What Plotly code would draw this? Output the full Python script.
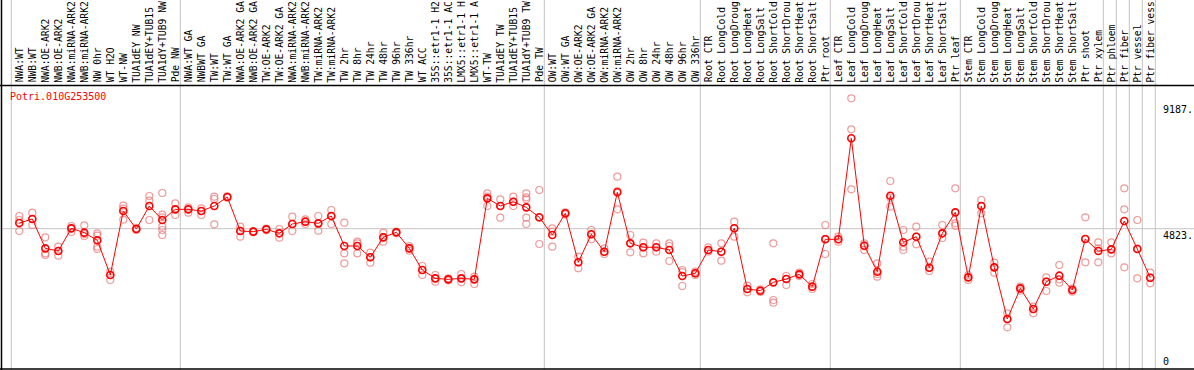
import plotly.graph_objects as go

title = "Potri.010G253500"

labels = [
    "NWA:WT", "NWB:WT", "NWA:OE-ARK2", "NWB:OE-ARK2", "NWA:miRNA-ARK2", "NWB:miRNA-ARK2",
    "NW 0hr", "WT H2O", "WT-NW", "TUA1dEY NW", "TUA1dEY+TUB15", "TUA1dY+TUB9 NW", "Pde NW",
    "NWA:WT GA", "NWBWT GA", "TW:WT", "TW:WT GA", "NWA:OE-ARK2 GA", "NWB:OE-ARK2 GA",
    "TW:OE-ARK2", "TW:OE-ARK2 GA", "NWA:miRNA-ARK2", "NWB:miRNA-ARK2", "TW:miRNA-ARK2",
    "TW:miRNA-ARK2", "TW 2hr", "TW 8hr", "TW 24hr", "TW 48hr", "TW 96hr", "TW 336hr",
    "WT ACC", "35S::etr1-1 H2", "35S::etr1-1 AC", "LMX5::etr1-1 H", "LMX5::etr1-1 A",
    "WT-TW", "TUA1dEY TW", "TUA1dEY+TUB15", "TUA1dY+TUB9 TW", "Pde TW",
    "OW:WT", "OW:WT GA", "OW:OE-ARK2", "OW:OE-ARK2 GA", "OW:miRNA-ARK2", "OW:miRNA-ARK2",
    "OW 2hr", "OW 8hr", "OW 24hr", "OW 48hr", "OW 96hr", "OW 336hr",
    "Root CTR", "Root LongCold", "Root LongDroug", "Root LongHeat", "Root LongSalt",
    "Root ShortCold", "Root ShortDrou", "Root ShortHeat", "Root ShortSalt", "Ptr root",
    "Leaf CTR", "Leaf LongCold", "Leaf LongDroug", "Leaf LongHeat", "Leaf LongSalt",
    "Leaf ShortCold", "Leaf ShortDrou", "Leaf ShortHeat", "Leaf ShortSalt", "Ptr leaf",
    "Stem CTR", "Stem LongCold", "Stem LongDroug", "Stem LongHeat", "Stem LongSalt",
    "Stem ShortCold", "Stem ShortDrou", "Stem ShortHeat", "Stem ShortSalt", "Ptr shoot",
    "Ptr xylem", "Ptr phloem", "Ptr fiber", "Ptr vessel", "Ptr fiber vess",
]

means = [
    5020, 5159, 4141, 4048, 4835, 4685, 4419, 3215, 5437, 4812, 5611, 5125, 5495,
    5495, 5437, 5611, 5923, 4743, 4720, 4801, 4662, 4986, 5067, 5009, 5264, 4222,
    4222, 3829, 4523, 4697, 4141, 3389, 3099, 3064, 3099, 3064, 5877, 5611, 5761,
    5564, 5218,
    4604, 5357, 3656, 4628, 4024, 6086, 4315, 4177, 4177, 4083, 3180, 3274,
    4083, 4024, 4836, 2729, 2671, 2960, 3076, 3238, 2810, 4455,
    4455, 7961, 4233, 3331, 5969, 4350, 4545, 3469, 4662, 5391,
    3134, 5611, 3481, 1687, 2752, 2035, 2983, 3192, 2694, 4465, 4048, 4106, 5090,
    4118, 3121,
]

replicates = [
    [5264, 5125, 4743], [5379, 5159, 4951], [4523, 3968, 3910], [4199, 4048, 3886],
    [4916, 4835, 4708], [4939, 4638, 4569], [4662, 4582, 4199, 4118], [3331, 3215, 3041],
    [5622, 5520, 5136], [4850, 4812, 4780], [5958, 5795, 5125],
    [6062, 5309, 5218, 4892, 4777, 4604], [5704, 5495, 5298],
    [5560, 5495, 5379], [5530, 5437, 5298], [5936, 5855, 4975], [5950, 5923, 5900],
    [4892, 4743, 4545], [4740, 4720, 4700], [4830, 4801, 4770], [4812, 4662, 4511],
    [5240, 4986, 4743], [5148, 5067, 4986], [5264, 5009, 4754], [5472, 5264, 4986],
    [5031, 3968, 3621], [4371, 4315, 3968], [3989, 3829, 3642], [4685, 4523, 4371],
    [4720, 4697, 4662], [4220, 4141, 4060], [3528, 3389, 3215], [3215, 3099, 2983],
    [3099, 3064, 3029], [3250, 3099, 2960], [3157, 3064, 2903], [6051, 5936, 5611],
    [5843, 5611, 5206], [5936, 5761, 5611], [6051, 5913, 5843, 5206, 4986],
    [6166, 5200, 4291],
    [4836, 4720, 4199], [5392, 5357, 5322], [3850, 3656, 3448], [4777, 4628, 4455],
    [4141, 4024, 3944], [6628, 6130, 5496], [4604, 4315, 4003], [4338, 4177, 3968],
    [4315, 4177, 4024], [4315, 4222, 3701], [3389, 3318, 2833], [3331, 3274, 3215],
    [4177, 4083, 4024], [4315, 4024, 3712], [5067, 4836, 4545], [2844, 2729, 2614],
    [2717, 2671, 2625], [4315, 2347, 2253], [3180, 3076, 2868], [3296, 3238, 3180],
    [2903, 2810, 2729], [4951, 4470, 3944],
    [4545, 4455, 4371], [9349, 8273, 6190], [4315, 4233, 4083], [3621, 3250, 3156],
    [6479, 5900, 5587], [4777, 4199, 4083], [4892, 4545, 4281], [3680, 3469, 3354],
    [4951, 4662, 4500], [6225, 5009, 4928],
    [3215, 3134, 3041], [5820, 5611, 5357], [3642, 3481, 3296], [1885, 1687, 1398],
    [2810, 2752, 2671], [2116, 2035, 1885], [3134, 2983, 2659], [3562, 3064, 2948],
    [2752, 2694, 2636], [5218, 4465, 3656], [4350, 4140, 3656], [4350, 4106, 3968],
    [6225, 5496, 3482], [5125, 4130, 3100], [3295, 3115, 2927],
]

group_starts = [0, 13, 41, 53, 63, 73, 84, 85, 86, 87, 88]
axis_labels = [9187, 4823, 0]

RED = "#ff0000"
PINK = "rgba(235,120,120,0.75)"
GRAY = "#c4c4c4"
FONT = "DejaVu Sans Mono"

W, H = 1194, 370
col0_px, col_w = 19.3, 13.0
zero_px, px_per_unit = 367.6, 0.02880

x = list(range(len(labels)))
rx, ry = [], []
for i, reps in enumerate(replicates):
    for v in reps:
        rx.append(i)
        ry.append(v)

fig = go.Figure()
fig.add_trace(go.Scatter(
    x=rx, y=ry, mode="markers",
    marker=dict(symbol="circle-open", size=7, color=PINK, line=dict(width=1.2, color=PINK)),
    hoverinfo="skip", showlegend=False,
))
fig.add_trace(go.Scatter(
    x=x, y=means, mode="lines+markers",
    line=dict(color=RED, width=1),
    marker=dict(symbol="circle-open", size=7, color=RED, line=dict(width=1.6, color=RED)),
    showlegend=False,
))

x_lo = -col0_px / col_w
x_hi = (W - col0_px) / col_w
y_hi = zero_px / px_per_unit
y_lo = (zero_px - H) / px_per_unit

shapes = []
for g in group_starts:
    shapes.append(dict(type="line", xref="x", yref="paper", x0=g - 0.615, x1=g - 0.615,
                       y0=0, y1=1, line=dict(color=GRAY, width=1), layer="below"))
shapes.append(dict(type="line", xref="paper", yref="y", x0=0, x1=1, y0=axis_labels[1],
                   y1=axis_labels[1], line=dict(color=GRAY, width=1), layer="below"))
# black frame lines
shapes.append(dict(type="line", xref="paper", yref="paper", x0=0, x1=1,
                   y0=1 - 85.5 / H, y1=1 - 85.5 / H, line=dict(color="black", width=1.5)))
shapes.append(dict(type="line", xref="paper", yref="paper", x0=0, x1=1,
                   y0=1 - 369 / H, y1=1 - 369 / H, line=dict(color="black", width=1.5)))
shapes.append(dict(type="line", xref="paper", yref="paper", x0=1.5 / W, x1=1.5 / W,
                   y0=0, y1=1, line=dict(color="black", width=1.5)))

annotations = []
for i, lab in enumerate(labels):
    annotations.append(dict(x=i, y=1 - 83.5 / H, xref="x", yref="paper", text=lab,
                            textangle=-90, showarrow=False, xanchor="center",
                            yanchor="bottom", font=dict(family=FONT, size=9.7, color="black"),
                            borderpad=0))
annotations.append(dict(x=9 / W, y=1 - 96.7 / H, xref="paper", yref="paper", text=title,
                        showarrow=False, xanchor="left", yanchor="middle",
                        font=dict(family=FONT, size=10, color=RED), borderpad=0))
for v in axis_labels:
    annotations.append(dict(x=1162 / W, y=v, xref="paper", yref="y",
                            text=f"{v}." if v else "0", showarrow=False, xanchor="left",
                            yanchor="top" if v else "bottom",
                            font=dict(family=FONT, size=10, color="black"), borderpad=0))

fig.update_layout(
    width=W, height=H,
    margin=dict(l=0, r=0, t=0, b=0),
    paper_bgcolor="white", plot_bgcolor="white",
    xaxis=dict(range=[x_lo, x_hi], visible=False, fixedrange=True),
    yaxis=dict(range=[y_lo, y_hi], visible=False, fixedrange=True),
    shapes=shapes, annotations=annotations,
    showlegend=False,
)

fig.write_html(
    "out.html",
    config={"displayModeBar": False},
    post_script="document.body.style.margin='0';document.body.style.overflow='hidden';",
)
